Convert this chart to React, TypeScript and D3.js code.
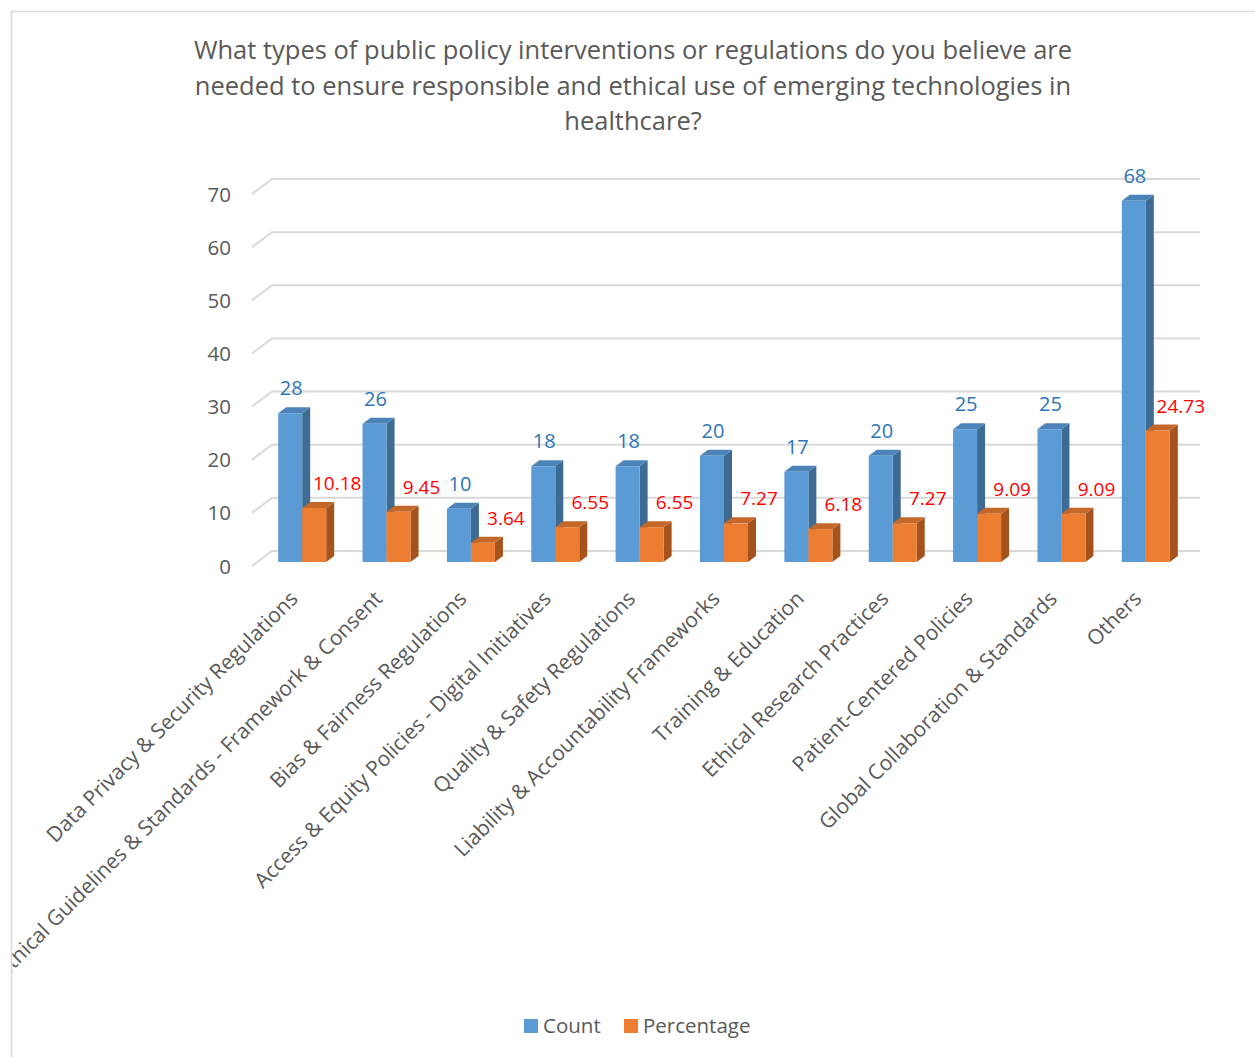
import React from "react";
import * as d3 from "d3";

const categories = [
  "Data Privacy & Security Regulations",
  "Ethical Guidelines & Standards - Framework & Consent",
  "Bias & Fairness Regulations",
  "Access & Equity Policies - Digital Initiatives",
  "Quality & Safety Regulations",
  "Liability & Accountability Frameworks",
  "Training & Education",
  "Ethical Research Practices",
  "Patient-Centered Policies",
  "Global Collaboration & Standards",
  "Others",
];
const countValues = [28, 26, 10, 18, 18, 20, 17, 20, 25, 25, 68];
const percentValues = [10.18, 9.45, 3.64, 6.55, 6.55, 7.27, 6.18, 7.27, 9.09, 9.09, 24.73];
const yTicks = [0, 10, 20, 30, 40, 50, 60, 70];
const seriesNames = ["Count", "Percentage"];
const titleLines = [
  "What types of public policy interventions or regulations do you believe are",
  "needed to ensure responsible and ethical use of emerging technologies in",
  "healthcare?",
];

const W = 1255;
const H = 1057;
const FONT = "'Open Sans', 'Noto Sans', sans-serif";
const GREY = "#595959";

// geometry
const floorFrontX0 = 252;
const floorFrontX1 = 1180;
const depthDX = 20;
const depthDY = -15;
const backBaseY = 551;
const barDX = 8; // bar depth offset
const barDY = -6;
const barBaseY = 562;
const barShiftX = 8;

const colors = {
  count: { front: "#5B9BD5", side: "#3E6B94", top: "#4C84BA" },
  pct: { front: "#ED7D31", side: "#A5521D", top: "#C4682A" },
};

export default function App() {
  const h = d3.scaleLinear().domain([0, 70]).range([0, 372]);
  const x = d3
    .scaleBand<string>()
    .domain(categories)
    .range([floorFrontX0 + barShiftX, floorFrontX1 + barShiftX])
    .paddingInner(0)
    .paddingOuter(0);
  const bw = x.bandwidth();
  const barW = 24;
  const sub = d3
    .scaleBand<string>()
    .domain(seriesNames)
    .range([(bw - 2 * barW) / 2, (bw - 2 * barW) / 2 + 2 * barW]);

  const bar = (x0: number, v: number, c: { front: string; side: string; top: string }, key: string) => {
    const top = barBaseY - h(v);
    const x1 = x0 + barW;
    const front = `M${x0},${barBaseY}L${x1},${barBaseY}L${x1},${top}L${x0},${top}Z`;
    const side = `M${x1},${barBaseY}L${x1 + barDX},${barBaseY + barDY}L${x1 + barDX},${top + barDY}L${x1},${top}Z`;
    const topF = `M${x0},${top}L${x1},${top}L${x1 + barDX},${top + barDY}L${x0 + barDX},${top + barDY}Z`;
    return (
      <g key={key}>
        <path d={side} fill={c.side} />
        <path d={topF} fill={c.top} />
        <path d={front} fill={c.front} />
      </g>
    );
  };

  return (
    <svg
      width={W}
      height={H}
      style={{ position: "absolute", left: 0, top: 0, background: "#fff" }}
      fontFamily={FONT}
    >
      <defs>
        <clipPath id="chartArea">
          <rect x={12.5} y={12.5} width={W} height={H} />
        </clipPath>
      </defs>
      <rect x={11.5} y={11.5} width={W + 10} height={H + 10} fill="#fff" stroke="#d9d9d9" strokeWidth={1.5} />
      {titleLines.map((t, i) => (
        <text key={i} x={633} y={59 + i * 35.5} textAnchor="middle" fontSize={25.5} fill={GREY}>
          {t}
        </text>
      ))}
      {/* gridlines */}
      {yTicks.map((v) => {
        const by = backBaseY - h(v);
        return (
          <g key={v}>
            <path
              d={`M${floorFrontX0},${by - depthDY}L${floorFrontX0 + depthDX},${by}L${floorFrontX1 + depthDX},${by}`}
              fill="none"
              stroke="#d9d9d9"
              strokeWidth={2}
            />
            <text x={231} y={by - depthDY + 7.5} textAnchor="end" fontSize={20.5} fill={GREY}>
              {v}
            </text>
          </g>
        );
      })}
      {/* bars */}
      {categories.map((cat, i) => {
        const bx = (x(cat) as number) + (sub("Count") as number);
        const ox = (x(cat) as number) + (sub("Percentage") as number);
        return (
          <g key={cat}>
            {bar(bx, countValues[i], colors.count, "c")}
            {bar(ox, percentValues[i], colors.pct, "p")}
          </g>
        );
      })}
      {/* data labels */}
      {categories.map((cat, i) => {
        const bx = (x(cat) as number) + (sub("Count") as number);
        const ox = (x(cat) as number) + (sub("Percentage") as number);
        return (
          <g key={"l" + cat}>
            <text
              x={bx + barW / 2 + 1}
              y={barBaseY - h(countValues[i]) - 18}
              textAnchor="middle"
              fontSize={20}
              fill="#2E75B6"
            >
              {countValues[i]}
            </text>
            <text
              x={ox + barW / 2 + 23}
              y={barBaseY - h(percentValues[i]) - 18}
              textAnchor="middle"
              fontSize={19}
              fill="#FF0000"
            >
              {percentValues[i].toFixed(2)}
            </text>
          </g>
        );
      })}
      {/* category labels */}
      <g clipPath="url(#chartArea)">
        {categories.map((cat) => {
          const cx = (x(cat) as number) + bw / 2 - 3;
          const cy = 600;
          return (
            <text
              key={"c" + cat}
              transform={`translate(${cx},${cy}) rotate(-45)`}
              textAnchor="end"
              fontSize={21}
              fill={GREY}
            >
              {cat}
            </text>
          );
        })}
      </g>
      {/* legend */}
      <rect x={524} y={1019} width={14} height={14} fill={colors.count.front} />
      <text x={543} y={1033} fontSize={20.5} fill={GREY}>
        Count
      </text>
      <rect x={624} y={1019} width={14} height={14} fill={colors.pct.front} />
      <text x={643} y={1033} fontSize={20.5} fill={GREY}>
        Percentage
      </text>
    </svg>
  );
}
